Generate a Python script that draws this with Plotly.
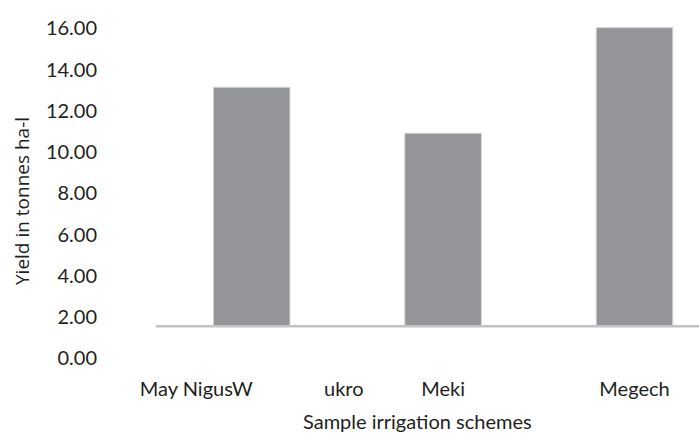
import plotly.graph_objects as go

# Yield per irrigation scheme (tonnes per hectare)
schemes = ["May NigusW" + "\u00a0" * 14 + "ukro", "Meki", "Megech"]
yields = [13.14, 10.91, 16.03]

# value at which the category axis crosses the value axis
axis_cross = 1.55

y_ticks = [0, 2, 4, 6, 8, 10, 12, 14, 16]
y_tick_text = [f"{v:.2f}" for v in y_ticks]

text_color = "#231f20"
tick_font = dict(family="Lato, 'Open Sans', sans-serif", size=20, color=text_color)

fig = go.Figure()
fig.add_trace(
    go.Bar(
        x=schemes,
        y=[v - axis_cross for v in yields],
        base=axis_cross,
        width=0.4,
        marker=dict(color="#939598", line=dict(color="#d4d5d6", width=1)),
        hoverinfo="skip",
    )
)

# category axis line drawn at the crossing value
fig.add_shape(
    type="line",
    xref="paper",
    yref="y",
    x0=0,
    x1=1,
    y0=axis_cross,
    y1=axis_cross,
    line=dict(color="#c3c3c3", width=2.5),
    layer="above",
)

fig.update_layout(
    width=699,
    height=435,
    margin=dict(l=156, r=0, t=20, b=60),
    paper_bgcolor="white",
    plot_bgcolor="white",
    showlegend=False,
    font=tick_font,
    xaxis=dict(
        range=[-0.5, 2.337],
        showline=False,
        showgrid=False,
        zeroline=False,
        ticks="",
        tickfont=tick_font,
    ),
    yaxis=dict(
        range=[-0.81, 16.40],
        tickvals=y_ticks,
        ticktext=y_tick_text,
        showline=False,
        showgrid=False,
        zeroline=False,
        ticks="",
        tickfont=tick_font,
        ticklabelstandoff=58,
    ),
    annotations=[
        dict(
            text="Yield in tonnes ha-l",
            xref="paper",
            yref="paper",
            x=-0.2468,
            y=0.49,
            xanchor="center",
            yanchor="middle",
            textangle=-90,
            showarrow=False,
            font=dict(family="'Open Sans', 'Noto Sans', sans-serif", size=19, color=text_color),
        ),
        dict(
            text="Sample irrigation schemes",
            xref="paper",
            yref="paper",
            x=0.4825,
            y=-0.1296,
            xanchor="center",
            yanchor="middle",
            showarrow=False,
            font=tick_font,
        ),
    ],
)

fig.write_html("out.html")
